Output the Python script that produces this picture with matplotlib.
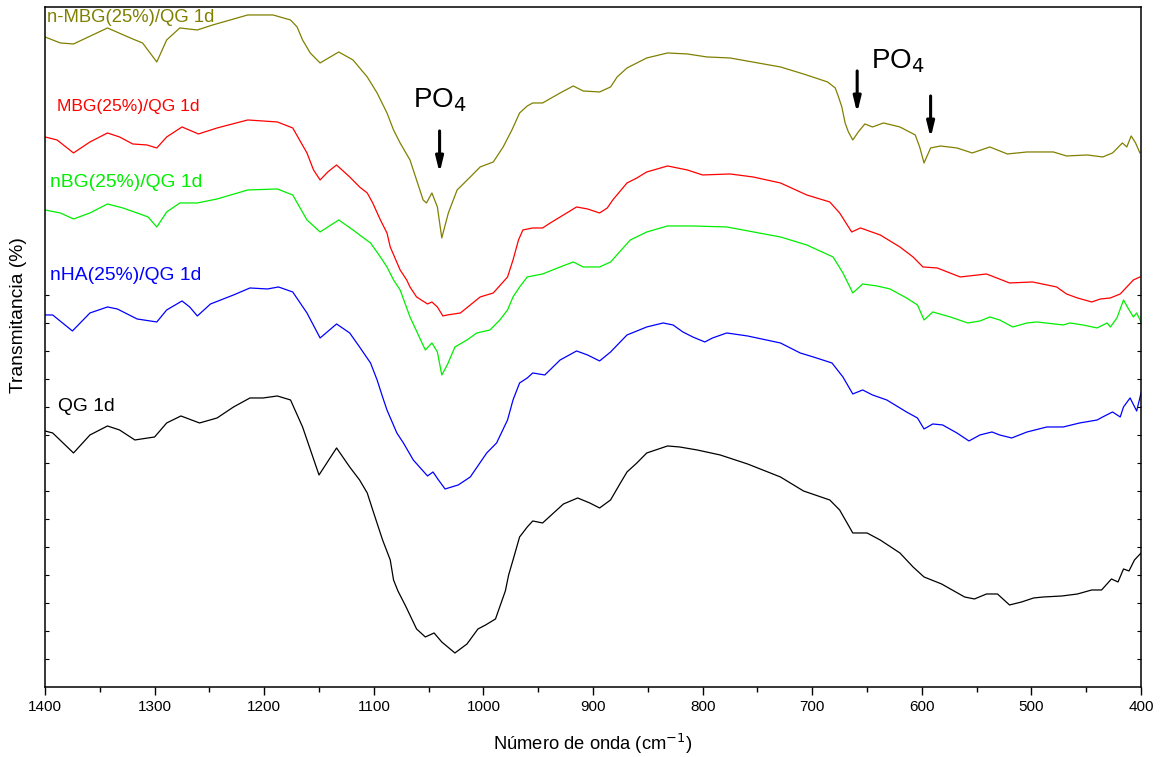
import numpy as np
import matplotlib.pyplot as plt
from matplotlib.ticker import MultipleLocator

plt.rcParams['font.family'] = ['Liberation Sans', 'DejaVu Sans']

# wavenumber (cm-1) / offset transmittance (a.u.)
olive_wn = [1400, 1386, 1374, 1343, 1320, 1311, 1298, 1289, 1277, 1261, 1247, 1215, 1192, 1176, 1170, 1165,
            1158, 1149, 1132, 1119, 1106, 1097, 1088, 1082, 1076, 1067, 1064, 1061, 1055, 1052, 1047, 1042,
            1038, 1032, 1024, 1012, 1003, 991, 982, 974, 967, 960, 955, 946, 930, 918, 909, 894, 884, 878,
            869, 860, 851, 832, 814, 796, 775, 729, 708, 686, 679, 676, 673, 670, 667, 663, 658, 652, 645,
            635, 620, 606, 602, 598, 592, 583, 568, 554, 538, 522, 504, 480, 468, 449, 435, 426, 417, 413,
            409, 405, 401]
olive_t = [650, 644, 643, 659, 648, 644, 625, 647, 659, 657, 662, 672, 672, 667, 660, 647,
           634, 624, 635, 627, 610, 594, 574, 557, 544, 527, 517, 507, 487, 484, 494, 480,
           449, 474, 497, 510, 520, 525, 540, 557, 574, 581, 584, 584, 594, 601, 596, 595, 600, 610,
           619, 624, 629, 634, 633, 630, 629, 620, 613, 605, 599, 590, 580, 564, 555, 547, 555, 563, 560,
           564, 560, 552, 540, 524, 539, 541, 539, 534, 540, 533, 535, 535, 531, 532, 530, 534, 544, 540,
           551, 544, 534]

red_wn = [1400, 1389, 1374, 1359, 1343, 1332, 1320, 1307, 1298, 1289, 1275, 1260, 1243, 1215, 1188, 1174,
          1161, 1155, 1149, 1142, 1134, 1122, 1113, 1106, 1101, 1094, 1088, 1085, 1076, 1070, 1067, 1061,
          1051, 1047, 1042, 1037, 1033, 1021, 1012, 1003, 991, 978, 973, 968, 964, 955, 946, 939, 927,
          915, 905, 894, 887, 882, 869, 860, 851, 832, 814, 800, 775, 754, 729, 705, 684, 675, 664, 656,
          638, 620, 608, 599, 586, 565, 541, 520, 499, 477, 468, 458, 445, 437, 428, 419, 413, 407, 401]
red_t = [550, 547, 534, 545, 554, 550, 543, 542, 539, 550, 560, 553, 559, 567, 565, 559,
         534, 517, 507, 515, 522, 510, 500, 494, 484, 467, 454, 440, 417, 407, 400, 390,
         383, 385, 380, 371, 372, 374, 382, 390, 394, 410, 427, 447, 457, 459, 459, 464, 472,
         480, 478, 474, 479, 487, 504, 509, 515, 521, 517, 512, 513, 510, 504, 492, 485, 474, 455, 459,
         452, 440, 430, 420, 419, 410, 413, 404, 405, 400, 393, 389, 385, 388, 389, 393, 400, 407, 410]

green_wn = [1400, 1386, 1374, 1359, 1343, 1329, 1316, 1306, 1298, 1289, 1277, 1261, 1243, 1215, 1188, 1174,
            1161, 1149, 1132, 1119, 1113, 1103, 1094, 1088, 1082, 1076, 1067, 1053, 1047, 1042, 1038, 1033,
            1026, 1015, 1006, 994, 985, 978, 973, 967, 960, 946, 930, 918, 909, 894, 884, 866, 851, 832,
            809, 778, 729, 705, 681, 672, 663, 654, 641, 629, 614, 604, 598, 590, 574, 558, 547, 538, 529,
            517, 504, 495, 471, 465, 453, 440, 431, 428, 422, 416, 412, 407, 404, 400]
green_t = [477, 474, 468, 474, 483, 479, 474, 470, 460, 475, 484, 484, 488, 497, 498, 492,
           467, 455, 467, 457, 452, 444, 430, 420, 407, 397, 370, 337, 344, 335, 312, 322,
           340, 347, 354, 357, 367, 377, 390, 400, 410, 413, 420, 425, 420, 420, 425, 447, 455, 461,
           461, 460, 450, 442, 430, 414, 394, 403, 401, 398, 389, 382, 367, 375, 370, 364, 366, 370, 367,
           360, 364, 365, 362, 364, 362, 359, 364, 360, 369, 387, 379, 370, 374, 365]

blue_wn = [1400, 1393, 1375, 1359, 1343, 1334, 1316, 1298, 1289, 1275, 1268, 1261, 1249, 1228, 1213, 1197,
           1187, 1174, 1161, 1149, 1134, 1122, 1113, 1103, 1097, 1092, 1088, 1079, 1073, 1064, 1051, 1046,
           1041, 1035, 1023, 1012, 997, 988, 978, 973, 967, 960, 955, 944, 930, 915, 905, 894, 884, 869,
           851, 836, 827, 818, 809, 798, 791, 778, 759, 729, 711, 699, 682, 672, 663, 654, 645, 632, 614,
           604, 598, 590, 581, 568, 557, 547, 536, 529, 518, 504, 486, 471, 456, 440, 435, 426, 419, 416,
           410, 404, 400]
blue_t = [372, 372, 356, 374, 380, 378, 368, 365, 377, 386, 380, 371, 383, 392, 399, 398,
          400, 395, 374, 349, 363, 354, 340, 324, 307, 290, 277, 254, 244, 227, 211, 215,
          207, 198, 202, 210, 234, 244, 267, 287, 304, 309, 314, 312, 327, 336, 332, 326, 335, 352,
          360, 364, 362, 355, 350, 345, 349, 354, 351, 344, 334, 330, 324, 310, 293, 297, 292, 287, 275,
          269, 258, 263, 262, 254, 246, 252, 255, 252, 249, 255, 260, 260, 264, 267, 270, 275, 270, 280,
          289, 276, 294]

black_wn = [1400, 1393, 1374, 1359, 1343, 1332, 1318, 1300, 1289, 1276, 1259, 1243, 1228, 1213, 1201, 1188,
            1176, 1165, 1150, 1134, 1122, 1113, 1106, 1101, 1092, 1085, 1082, 1078, 1071, 1061, 1053, 1045,
            1038, 1026, 1015, 1005, 998, 989, 980, 977, 973, 967, 960, 955, 946, 927, 914, 903, 894, 884,
            875, 869, 860, 851, 832, 821, 805, 784, 759, 729, 708, 684, 675, 663, 650, 638, 620, 608, 598,
            582, 561, 552, 541, 531, 520, 509, 498, 489, 472, 458, 445, 436, 427, 421, 416, 411, 406, 400]
black_t = [256, 254, 234, 252, 261, 257, 247, 250, 264, 271, 264, 269, 280, 289, 289, 291,
           287, 260, 212, 239, 220, 207, 194, 177, 147, 127, 107, 96, 81, 58, 50, 54,
           45, 34, 43, 58, 62, 68, 96, 112, 127, 150, 160, 166, 164, 183, 189, 184, 179, 187,
           204, 215, 224, 234, 241, 240, 237, 232, 223, 210, 196, 187, 177, 154, 154, 147, 134, 120, 110,
           103, 90, 88, 93, 93, 82, 85, 89, 90, 91, 93, 97, 97, 108, 105, 118, 116, 127, 134]

labels = ['n-MBG(25%)/QG 1d', 'MBG(25%)/QG 1d', 'nBG(25%)/QG 1d', 'nHA(25%)/QG 1d', 'QG 1d']
colors = ['#808000', '#ff0000', '#00ee00', '#0000ff', '#000000']
series = [(olive_wn, olive_t), (red_wn, red_t), (green_wn, green_t), (blue_wn, blue_t), (black_wn, black_t)]
label_pos = [(1398, 669), (1389, 580), (1395, 504), (1395, 411), (1388, 280)]
label_size = [13.3, 12.6, 13.9, 13.9, 13.9]

fig = plt.figure(figsize=(11.66, 7.57), dpi=100)
ax = fig.add_axes([0.0386, 0.0925, 0.9400, 0.8983])

for (wn, t), lab, c, (lx, ly), fs in zip(series, labels, colors, label_pos, label_size):
    ax.plot(wn, t, color=c, lw=0.9)
    ax.text(lx, ly, lab, color=c, fontsize=fs, ha='left', va='center')

# PO4 band annotations
ax.text(1064, 580, 'PO$_4$', fontsize=20, ha='left', va='baseline')
ax.text(646, 619, 'PO$_4$', fontsize=20, ha='left', va='baseline')
arrow = dict(arrowstyle='-|>,head_width=0.22,head_length=0.9', lw=2.2, color='k', shrinkA=0, shrinkB=0)
for x, y0, y1 in [(1040, 556, 514), (659, 616, 574), (592, 591, 549)]:
    ax.annotate('', xy=(x, y1), xytext=(x, y0), arrowprops=arrow)

ax.set_xlim(1400, 400)
ax.set_ylim(0, 680)
ax.xaxis.set_major_locator(MultipleLocator(100))
ax.xaxis.set_minor_locator(MultipleLocator(50))
ax.tick_params(axis='x', which='major', direction='out', length=6, width=1, labelsize=11, top=False)
ax.tick_params(axis='x', which='minor', direction='out', length=3.5, width=1, top=False)
ax.set_yticks(np.arange(28, 400, 28))
ax.set_yticklabels([])
ax.tick_params(axis='y', direction='in', length=3, width=0.8, left=True, right=True)
for s in ax.spines.values():
    s.set_linewidth(1.1)

ax.set_xlabel('Número de onda (cm$^{-1}$)', fontsize=13.2, va='center')
ax.xaxis.set_label_coords(0.5, -0.084)
ax.set_ylabel('Transmitancia (%)', fontsize=13.9, va='center')
ax.yaxis.set_label_coords(-0.0246, 0.547)

fig.savefig('out.png', dpi=100)
